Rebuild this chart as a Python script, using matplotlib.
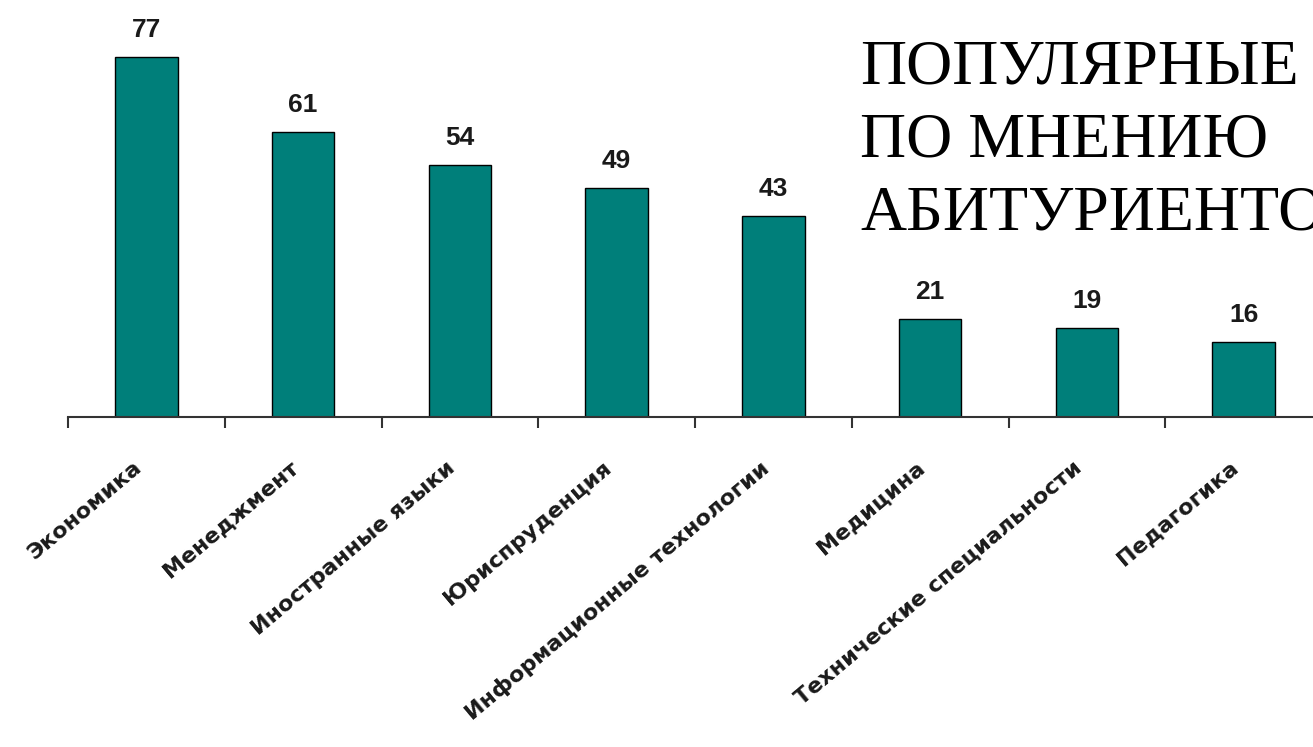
import numpy as np
import matplotlib.pyplot as plt
from matplotlib.transforms import ScaledTranslation

categories = ['Экономика', 'Менеджмент', 'Иностранные языки', 'Юриспруденция',
              'Информационные технологии', 'Медицина', 'Технические специальности', 'Педагогика']
values = [77, 61, 54, 49, 43, 21, 19, 16]
title = 'ПОПУЛЯРНЫЕ\nПО МНЕНИЮ\nАБИТУРИЕНТОВ'

fig = plt.figure(figsize=(13.13, 7.47), dpi=100)
ax = fig.add_axes([68/1313, 330/747, 1254/1313, 374/747])

x = np.arange(len(categories))
ax.bar(x, values, width=0.4, color='#007f7a', edgecolor='black', linewidth=1)
for xi, v in zip(x, values):
    ax.text(xi, v + 3.2, str(v), ha='center', va='bottom', fontsize=19,
            fontweight='bold', family='Liberation Sans', color='#1a1a1a')

ax.set_xlim(-0.5, len(categories) - 0.5)
ax.set_ylim(0, 80)
ax.set_yticks([])
for s in ['top', 'right', 'left']:
    ax.spines[s].set_visible(False)
ax.spines['bottom'].set_color('#333333')
ax.spines['bottom'].set_linewidth(1.5)

ax.set_xticks(x)
ax.set_xticklabels(categories, rotation=40, ha='right', va='top', rotation_mode='anchor',
                   fontsize=16, fontweight='bold', family='DejaVu Sans', color='#1a1a1a')
ax.tick_params(axis='x', which='major', length=0, pad=29)
shift = ScaledTranslation(-14/100, 0, fig.dpi_scale_trans)
for lab in ax.get_xticklabels():
    lab.set_transform(lab.get_transform() + shift)
ax.set_xticks(np.arange(-0.5, len(categories), 1), minor=True)
ax.tick_params(axis='x', which='minor', length=8, width=1.5, color='#333333')

fig.text(860/1313, 1 - 40/747, title, ha='left', va='top', fontsize=46,
         family='Liberation Serif', linespacing=1.33)

fig.savefig('out.png', dpi=100)
